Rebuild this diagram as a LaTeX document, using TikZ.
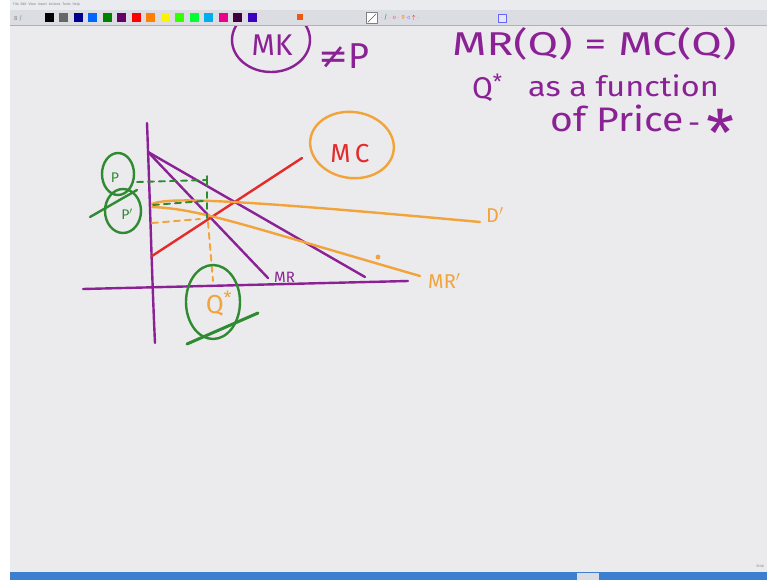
\documentclass[tikz,border=0pt]{standalone}
\usepackage{fontspec}
\setmainfont{Fira Sans}
\newfontfamily\symfont{DejaVu Sans}
\usetikzlibrary{shapes.geometric}
\definecolor{canvasbg}{HTML}{EBEAED}
\definecolor{barbg}{HTML}{DCDDE3}
\definecolor{penpurple}{HTML}{8A2296}
\definecolor{penred}{HTML}{E52A2A}
\definecolor{penorange}{HTML}{F2A43A}
\definecolor{pengreen}{HTML}{2F8A32}
\definecolor{barblue}{HTML}{3C7FD0}
\begin{document}
\begin{tikzpicture}[x=1pt,y=-1pt,line cap=round,line join=round,
  stroke/.style={line width=2.4pt},
  dashstroke/.style={line width=1.9pt, dash pattern=on 6pt off 5pt},
  ring/.style={ellipse, draw, line width=2.4pt, inner sep=0pt},
  hand/.style={inner sep=0pt, font=\fontsize{#1}{#1}\selectfont},
  swatch/.style={minimum width=9pt, minimum height=9pt, inner sep=0pt}]
\useasboundingbox (0,0) rectangle (767,580);
\fill[white] (0,0) rectangle (767,580);
\fill[canvasbg] (10,25) rectangle (767,572);

% ---------- axes ----------
\coordinate (ytop) at (147,123);
\coordinate (ybot) at (155,343);
\coordinate (xleft) at (83,289);
\coordinate (xright) at (408,281);
\draw[penpurple, stroke] (ytop) .. controls (150,200) and (152,280) .. (ybot);
\draw[penpurple, stroke] (xleft) -- (xright);

% ---------- demand and MR (purple) ----------
\coordinate (dtop) at (148,152);
\coordinate (dend) at (365,277);
\coordinate (mrend) at (268,278);
\draw[penpurple, stroke] (dtop) -- (dend);
\draw[penpurple, stroke] (dtop) -- (mrend);
\node[hand=15, text=penpurple, anchor=south west] (mrlab) at (274,283) {MR};

% ---------- MC (red) ----------
\coordinate (mc0) at (152,256);
\coordinate (mc1) at (302,158);
\draw[penred, stroke] (mc0) -- (mc1);
\node[hand=26, text=penred] (mclab) at (350,154) {M\,C};
\node[ring, draw=penorange, minimum width=84pt, minimum height=66pt, rotate=-8] (mcring) at (352,145) {};

% ---------- D' and MR' (orange) ----------
\coordinate (dp0) at (152,204);
\coordinate (dp1) at (480,222);
\draw[penorange, stroke] (dp0) .. controls (168,197) and (230,199) .. (dp1);
\node[hand=20, text=penorange, anchor=west] (dplab) at (486,215) {D$'$};
\coordinate (mrp0) at (152,207);
\coordinate (mrp1) at (420,276);
\draw[penorange, stroke] (mrp0) .. controls (200,209) and (240,224) .. (mrp1);
\node[hand=20, text=penorange, anchor=west] (mrplab) at (428,281) {MR$'$};
\fill[penorange] (378,257) circle (2.4pt);

% ---------- dashed guides ----------
\coordinate (gd0) at (137,182);
\coordinate (gd1) at (207,180);
\coordinate (gd2) at (207,218);
\draw[pengreen, dashstroke] (gd0) -- (gd1);
\draw[pengreen, line width=1.9pt] (207,176) -- (207,186);
\draw[pengreen, dashstroke] (207,192) -- (gd2);
\coordinate (gl0) at (153,205);
\coordinate (gl1) at (203,201);
\draw[pengreen, dashstroke] (gl0) -- (gl1);
\coordinate (od0) at (152,223);
\coordinate (od1) at (200,219);
\draw[penorange, dashstroke] (od0) -- (od1);
\coordinate (ov0) at (208,222);
\coordinate (ov1) at (213,281);
\draw[penorange, dashstroke] (ov0) -- (ov1);

% ---------- P circles (green) ----------
\node[ring, draw=pengreen, minimum width=32pt, minimum height=42pt] (pring) at (118,174) {};
\node[ring, draw=pengreen, minimum width=36pt, minimum height=44pt] (ppring) at (123,211) {};
\node[hand=14, text=pengreen] (plab) at (115,178) {P};
\node[hand=14, text=pengreen] (pplab) at (127,214) {P$'$};
\coordinate (gs0) at (90,217);
\coordinate (gs1) at (137,190);
\draw[pengreen, stroke] (gs0) -- (gs1);

% ---------- Q* circle ----------
\node[ring, draw=pengreen, minimum width=54pt, minimum height=74pt] (qring) at (213,302) {};
\node[hand=26, text=penorange] (qlab) at (219,304) {Q\textsuperscript{*}};
\coordinate (qs0) at (187,344);
\coordinate (qs1) at (258,313);
\draw[pengreen, line width=3pt] (qs0) -- (qs1);

% ---------- top notes (purple) ----------
\node[ring, draw=penpurple, minimum width=78pt, minimum height=64pt] (mrring) at (271,40) {};
\node[hand=30, text=penpurple, anchor=base] (mrtop) at (272,56) {MK};
\node[hand=36, text=penpurple, anchor=base west] (neq) at (318,69) {{\symfont ≠}P};
\node[hand=33, text=penpurple, anchor=base west] (eqn) at (452,56) {\scalebox{1.34}[1]{MR(Q) = MC(Q)}};
\node[hand=30, text=penpurple, anchor=base west] (qstar) at (472,99) {Q\textsuperscript{*}};
\node[hand=28, text=penpurple, anchor=base west] (asfn) at (528,97) {\scalebox{1.16}[1]{as a function}};
\node[hand=34, text=penpurple, anchor=base west] (ofp) at (550,132) {\scalebox{1.15}[1]{of Price}};
\node[hand=30, text=penpurple, anchor=base west] (dash) at (688,134) {-};
\node[hand=64, text=penpurple] (bigstar) at (721,133) {*};

% ---------- window chrome ----------
\fill[barbg!60!white] (10,0) rectangle (767,10);
\node[hand=3.5, text=gray, anchor=west] (menu) at (13,5) {File\ \ Edit\ \ View\ \ Insert\ \ Actions\ \ Tools\ \ Help};
\fill[barbg] (10,10) rectangle (767,25);
\draw[gray!60] (10,25) -- (767,25);
\node[hand=6, text=gray, anchor=west] (tbl) at (14,18) {8 /};
\foreach \c [count=\i from 0] in {black,gray!80!black,blue!55!black,blue!60!cyan,green!50!black,violet!80!black,red,orange,yellow,green!80!yellow,green!80!cyan,cyan,magenta,violet!50!black,blue!50!violet}{
  \node[swatch, fill=\c] (sw\i) at ({49+\i*14.5},18) {};
}
\node[swatch, minimum width=6pt, minimum height=6pt, fill=orange!70!purple] (palette) at (300,17) {};
\node[swatch, draw=gray, fill=white, minimum width=11pt, minimum height=11pt] (pentool) at (372,18) {};
\draw[gray!70!black] (368,22) -- (376,14);
\node[hand=6, text=gray, anchor=west] (tools) at (380,18) {$\cdot$ \textcolor{green!60!black}{/} $\cdot$ \textcolor{purple!60}{o} $\cdot$ \textcolor{orange}{9} \textcolor{blue!60}{$\triangleleft$} \textcolor{red}{$\uparrow$} $\cdot$};
\node[swatch, draw=blue!60, fill=blue!10, minimum width=8pt, minimum height=8pt] (lasttool) at (502,18) {};

\fill[barblue] (10,572) rectangle (767,580);
\fill[barbg] (577,573) rectangle (599,580);
\node[hand=3.5, text=gray, anchor=east] (clock) at (764,566) {31:46};
\end{tikzpicture}
\end{document}
